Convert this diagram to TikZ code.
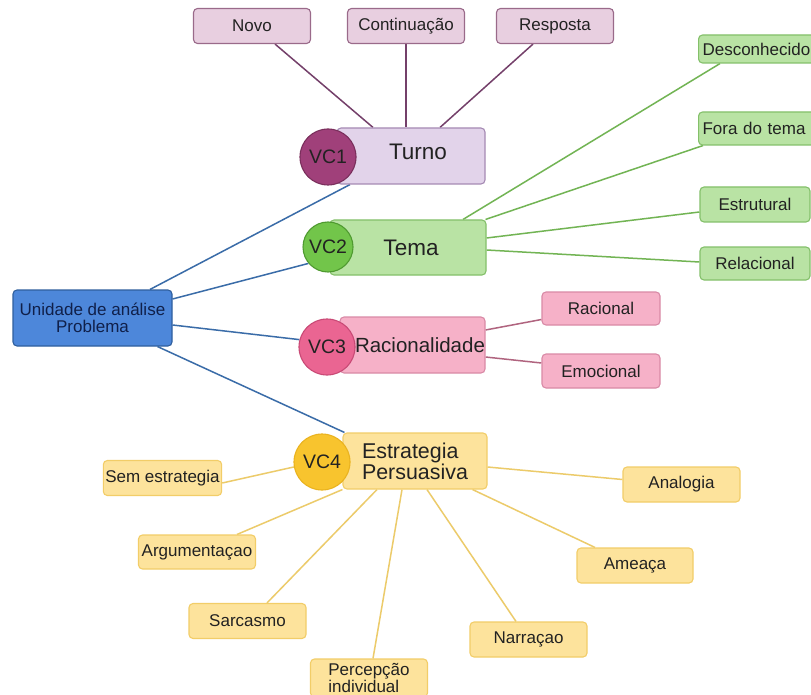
\documentclass[tikz,border=0pt]{standalone}
\usepackage{fontspec}
\setmainfont{Liberation Sans}
\usetikzlibrary{backgrounds,calc}
\definecolor{pleaffill}{HTML}{E8CFE0}
\definecolor{pleafdraw}{HTML}{9A6A8A}
\definecolor{pboxfill}{HTML}{E2D3EA}
\definecolor{pboxdraw}{HTML}{A58AB3}
\definecolor{pcirc}{HTML}{A0407A}
\definecolor{pcircdraw}{HTML}{7A2F5C}
\definecolor{pline}{HTML}{74406A}
\definecolor{gfill}{HTML}{B9E3A4}
\definecolor{gdraw}{HTML}{84C06A}
\definecolor{gcirc}{HTML}{72C54A}
\definecolor{gcircdraw}{HTML}{4F9A30}
\definecolor{gline}{HTML}{72B454}
\definecolor{bfill}{HTML}{4D87DA}
\definecolor{bdraw}{HTML}{2F5F9E}
\definecolor{btext}{HTML}{10204A}
\definecolor{bline}{HTML}{3A6CA8}
\definecolor{kfill}{HTML}{F6B1C8}
\definecolor{kdraw}{HTML}{D98AA6}
\definecolor{kcirc}{HTML}{EA6592}
\definecolor{kcircdraw}{HTML}{C94A76}
\definecolor{kline}{HTML}{B0647F}
\definecolor{yfill}{HTML}{FDE39C}
\definecolor{ydraw}{HTML}{F2CD68}
\definecolor{ycirc}{HTML}{F8C42E}
\definecolor{ycircdraw}{HTML}{EAB320}
\definecolor{yline}{HTML}{ECCB6A}
\definecolor{darktext}{HTML}{222222}
\begin{document}
\begin{tikzpicture}[x=1pt,y=-1pt,
  leaf/.style={draw, rounded corners=4pt, line width=1.1pt, minimum width=117pt,
    minimum height=35pt, inner sep=2pt, text=darktext, font=\fontsize{17}{18}\selectfont},
  pleaf/.style={leaf, fill=pleaffill, draw=pleafdraw},
  gleaf/.style={leaf, fill=gfill, draw=gdraw},
  kleaf/.style={leaf, fill=kfill, draw=kdraw},
  yleaf/.style={leaf, fill=yfill, draw=ydraw},
  mainbox/.style={draw, rounded corners=4pt, line width=1.1pt, minimum height=56pt, inner sep=0pt},
  vccirc/.style={circle, draw, line width=1.1pt, inner sep=0pt, text=darktext, font=\fontsize{19.5}{20}\selectfont},
  maintext/.style={text=darktext, inner sep=0pt},
  conn/.style={line width=1.5pt}
]
\useasboundingbox (0,0) rectangle (811,695);
\clip (0,0) rectangle (811,695);

% central node
\node[draw=bdraw, fill=bfill, rounded corners=4pt, line width=1.1pt, minimum width=159pt,
  minimum height=56pt, inner sep=0pt, align=center, text=btext,
  font=\fontsize{17}{17}\selectfont] (unid) at (92.5,318) {Unidade de análise\\Problema};

% VC1 Turno
\node[pleaf] (novo) at (252,26) {Novo};
\node[pleaf] (cont) at (406,26) {Continuação};
\node[pleaf] (resp) at (555,26) {Resposta};
\node[mainbox, fill=pboxfill, draw=pboxdraw, minimum width=148pt] (turno) at (411,156) {};
\node[maintext, font=\fontsize{22.5}{23}\selectfont] (turnot) at (418,152) {Turno};
\node[vccirc, fill=pcirc, draw=pcircdraw, minimum size=56pt] (vc1) at (328,157) {VC1};

% VC2 Tema
\node[gleaf, anchor=west, minimum width=130pt, minimum height=28pt, inner xsep=4pt, text width=122pt, align=left] (desc) at (698,49) {Desconhecido};
\node[gleaf, anchor=west, minimum width=130pt, minimum height=33pt, inner xsep=4pt, text width=122pt, align=left] (fora) at (698,128.5) {Fora do tema};
\node[gleaf, minimum width=110pt] (estrut) at (755,204.5) {Estrutural};
\node[gleaf, minimum width=110pt, minimum height=33pt] (relac) at (755,263.5) {Relacional};
\node[mainbox, fill=gfill, draw=gdraw, minimum width=156pt, minimum height=55pt] (tema) at (408,247.5) {};
\node[maintext, font=\fontsize{22.5}{23}\selectfont] (temat) at (411,248) {Tema};
\node[vccirc, fill=gcirc, draw=gcircdraw, minimum size=50pt] (vc2) at (328,247) {VC2};

% VC3 Racionalidade
\node[kleaf, minimum width=118pt, minimum height=33pt] (racional) at (601,308.5) {Racional};
\node[kleaf, minimum width=118pt, minimum height=34pt] (emoc) at (601,371) {Emocional};
\node[mainbox, fill=kfill, draw=kdraw, minimum width=145pt] (rac) at (412.5,345) {};
\node[maintext, font=\fontsize{20.5}{21}\selectfont] (ract) at (420,345) {Racionalidade};
\node[vccirc, fill=kcirc, draw=kcircdraw, minimum size=56pt] (vc3) at (327,347) {VC3};

% VC4 Estrategia
\node[yleaf] (sem) at (162.5,478) {Sem estrategia};
\node[yleaf, minimum height=34pt] (arg) at (197,552) {Argumentaçao};
\node[yleaf] (sarc) at (247.5,621) {Sarcasmo};
\node[yleaf, minimum height=38pt, align=left, font=\fontsize{17}{14.5}\selectfont] (perc) at (369,678) {Percepção\\individual};
\node[yleaf] (narr) at (528.5,639.5) {Narraçao};
\node[yleaf, minimum width=116pt] (amea) at (635,565.5) {Ameaça};
\node[yleaf] (analog) at (681.5,484.5) {Analogia};
\node[mainbox, fill=yfill, draw=ydraw, minimum width=144pt] (estr) at (415,461) {};
\node[maintext, align=left, font=\fontsize{21.4}{21}\selectfont] (estrt) at (415,461) {Estrategia\\Persuasiva};
\node[vccirc, fill=ycirc, draw=ycircdraw, minimum size=56pt] (vc4) at (322,462) {VC4};

\begin{scope}[on background layer]
  \fill[white] (0,0) rectangle (811,695);
  % blue
  \draw[conn, bline] ([xshift=57.5pt]unid.north) -- ([xshift=-61pt]turno.south);
  \draw[conn, bline] ([yshift=19pt]unid.east) -- (vc2.220);
  \draw[conn, bline] ([yshift=-7pt]unid.east) -- (vc3.165);
  \draw[conn, bline] ([xshift=65pt]unid.south) -- ([xshift=2pt]estr.north west);
  % purple
  \draw[conn, pline] ([xshift=23pt]novo.south) -- ([xshift=-38pt]turno.north);
  \draw[conn, pline] (cont.south) -- (cont.south |- turno.north);
  \draw[conn, pline] ([xshift=-22pt]resp.south) -- ([xshift=29pt]turno.north);
  % green
  \draw[conn, gline] ([xshift=22pt]desc.south west) -- ([xshift=55pt]tema.north);
  \draw[conn, gline] ([xshift=5pt]fora.south west) -- ([xshift=-1pt]tema.north east);
  \draw[conn, gline] ([yshift=-7.5pt]estrut.west) -- ([yshift=9.5pt]tema.east);
  \draw[conn, gline] ([yshift=1.5pt]relac.west) -- ([yshift=-2.5pt]tema.east);
  % pink
  \draw[conn, kline] ([yshift=-11pt]racional.west) -- ([yshift=15pt]rac.east);
  \draw[conn, kline] ([yshift=8pt]emoc.west) -- ([yshift=-12pt]rac.east);
  % yellow
  \draw[conn, yline] ([yshift=-5pt]sem.east) -- (vc4.190);
  \draw[conn, yline] ([xshift=40pt]arg.north) -- (estr.south west);
  \draw[conn, yline] ([xshift=19.5pt]sarc.north) -- ([xshift=-38pt]estr.south);
  \draw[conn, yline] ([xshift=4pt]perc.north) -- ([xshift=-13pt]estr.south);
  \draw[conn, yline] ([xshift=-12.5pt]narr.north) -- ([xshift=12pt]estr.south);
  \draw[conn, yline] ([xshift=-40pt]amea.north) -- ([xshift=-15pt]estr.south east);
  \draw[conn, yline] ([yshift=5pt]analog.west) -- ([yshift=-6pt]estr.east);
\end{scope}
\end{tikzpicture}
\end{document}
